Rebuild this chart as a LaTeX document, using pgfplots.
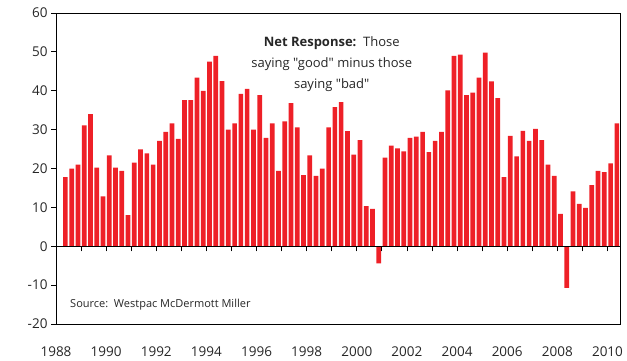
\documentclass[border=0pt]{standalone}
\usepackage{fontspec}
\setmainfont{Open Sans}[Ligatures=TeXOff]
\usepackage{pgfplots}
\pgfplotsset{compat=1.18}
\definecolor{barred}{HTML}{EE2027}

\begin{document}
\begin{tikzpicture}
\useasboundingbox (-56pt,-36pt) rectangle (571pt,324pt);
% frame, y ticks, year labels and the bars
\begin{axis}[
  at={(0,0)}, anchor=south west,
  scale only axis, width=564pt, height=311pt,
  xmin=1988, xmax=2010.5, ymin=-20, ymax=60,
  axis line style={black, line width=0.8pt},
  ytick={-20,-10,...,60}, ytick pos=left,
  tick align=outside, major tick length=5pt,
  ytick style={black, line width=0.8pt},
  xtick={1988,1990,...,2010}, xtick style={draw=none},
  xticklabel style={yshift=-14pt},
  /pgf/number format/assume math mode=true,
  ticklabel style={font=\fontsize{13.5}{16}\selectfont, text=black!85},
  xticklabel={\pgfmathprintnumber[1000 sep={}]{\tick}},
  ybar, bar width=4.7pt,
]
\addplot[fill=barred, draw=none] coordinates {
(1988.375,17.8) (1988.625,20.0) (1988.875,21.0)
(1989.125,31.1) (1989.375,34.0) (1989.625,20.2) (1989.875,12.8)
(1990.125,23.4) (1990.375,20.2) (1990.625,19.4) (1990.875,8.0)
(1991.125,21.5) (1991.375,24.9) (1991.625,23.9) (1991.875,21.0)
(1992.125,27.1) (1992.375,29.4) (1992.625,31.6) (1992.875,27.6)
(1993.125,37.6) (1993.375,37.6) (1993.625,43.4) (1993.875,40.0)
(1994.125,47.5) (1994.375,49.0) (1994.625,42.5) (1994.875,30.0)
(1995.125,31.6) (1995.375,39.2) (1995.625,40.5) (1995.875,30.0)
(1996.125,38.9) (1996.375,27.9) (1996.625,31.6) (1996.875,19.4)
(1997.125,32.1) (1997.375,36.8) (1997.625,30.6) (1997.875,18.3)
(1998.125,23.4) (1998.375,18.1) (1998.625,20.0) (1998.875,30.6)
(1999.125,35.8) (1999.375,37.1) (1999.625,29.6) (1999.875,23.6)
(2000.125,27.3) (2000.375,10.3) (2000.625,9.6) (2000.875,-4.4)
(2001.125,22.8) (2001.375,25.9) (2001.625,25.2) (2001.875,24.4)
(2002.125,27.9) (2002.375,28.2) (2002.625,29.4) (2002.875,24.2)
(2003.125,27.1) (2003.375,29.4) (2003.625,40.1) (2003.875,49.0)
(2004.125,49.3) (2004.375,38.9) (2004.625,39.5) (2004.875,43.4)
(2005.125,49.8) (2005.375,42.4) (2005.625,38.1) (2005.875,17.8)
(2006.125,28.4) (2006.375,23.1) (2006.625,29.7) (2006.875,27.1)
(2007.125,30.2) (2007.375,27.3) (2007.625,21.0) (2007.875,18.1)
(2008.125,8.3) (2008.375,-10.7) (2008.625,14.1) (2008.875,10.9)
(2009.125,9.9) (2009.375,15.7) (2009.625,19.4) (2009.875,19.1)
(2010.125,21.3) (2010.375,31.6)
};
\node[anchor=east, font=\fontsize{13.5}{16}\selectfont, text=black!85]
  at (axis cs:1988,20) [xshift=-37pt] {\%};
\node[anchor=north, align=center, inner sep=0pt,
  font=\fontsize{13}{21}\selectfont, text=black!85]
  at (axis cs:1999,54.0)
  {\textbf{Net Response:}\ \ Those\\ saying "good" minus those\\ saying "bad"};
\node[anchor=west, inner sep=0pt, font=\fontsize{11}{13}\selectfont, text=black!85]
  at (axis cs:1988.56,-15.1) {Source:\ \ Westpac McDermott Miller};
\end{axis}
% zero line with yearly tick marks
\begin{axis}[
  at={(0,0)}, anchor=south west,
  scale only axis, width=564pt, height=311pt,
  xmin=1988, xmax=2010.5, ymin=-20, ymax=60,
  axis x line=middle, axis y line=none,
  axis line style={-, black, line width=0.8pt},
  xtick={1988,1989,...,2010}, xticklabels={},
  major tick length=5pt, tick align=center,
  xtick style={black, line width=0.8pt, yshift=-2.5pt},
]
\end{axis}
\end{tikzpicture}
\end{document}
